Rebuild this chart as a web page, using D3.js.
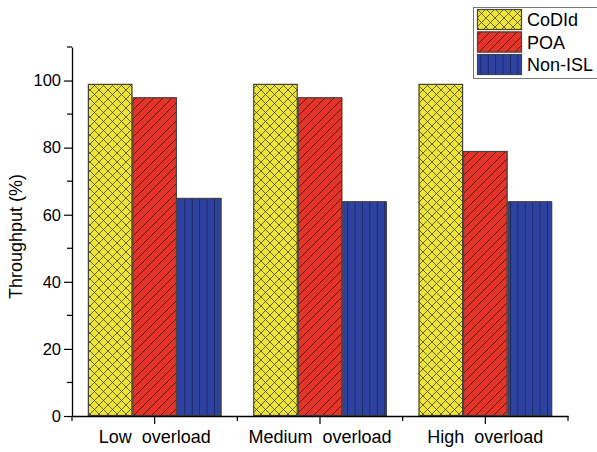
<!DOCTYPE html>
<html><head><meta charset="utf-8">
<script src="https://cdn.jsdelivr.net/npm/d3@7"></script>
<style>
body{margin:0;background:#fff;}
svg{display:block;font-family:"Liberation Sans",Arial,sans-serif;}
</style></head>
<body><svg id="c" width="597" height="452"></svg>
<script>
const categories = ["Low  overload", "Medium  overload", "High  overload"];
const series = ["CoDId", "POA", "Non-ISL"];
const codid = [99, 99, 99];
const poa = [95, 95, 79];
const nonisl = [65, 64, 64];
const yTicks = [0, 20, 40, 60, 80, 100];
const yMinor = [10, 30, 50, 70, 90, 110];

const values = [codid, poa, nonisl];
const colors = ["#EEE436", "#E43428", "#2D42A0"];
const patIds = ["pCross", "pDiag", "pVert"];

const svg = d3.select("#c");
const L = 72, R = 568, T = 47, B = 416;

const defs = svg.append("defs");
let p = defs.append("pattern").attr("id","pCross").attr("patternUnits","userSpaceOnUse").attr("width",9).attr("height",9);
p.append("rect").attr("width",9).attr("height",9).attr("fill",colors[0]);
p.append("path").attr("d","M0,0L9,9M9,0L0,9M-1,8L1,10M8,-1L10,1").attr("stroke","#2a2a10").attr("stroke-width",0.8).attr("opacity",0.85);
p = defs.append("pattern").attr("id","pDiag").attr("patternUnits","userSpaceOnUse").attr("width",9).attr("height",9);
p.append("rect").attr("width",9).attr("height",9).attr("fill",colors[1]);
p.append("path").attr("d","M0,9L9,0M-1,1L1,-1M8,10L10,8").attr("stroke","#2a0a08").attr("stroke-width",0.8).attr("opacity",0.85);
p = defs.append("pattern").attr("id","pVert").attr("patternUnits","userSpaceOnUse").attr("width",7.4).attr("height",10).attr("x",177);
p.append("rect").attr("width",7.4).attr("height",10).attr("fill",colors[2]);
p.append("line").attr("x1",0).attr("x2",0).attr("y1",0).attr("y2",10).attr("stroke","#101a40").attr("stroke-width",1.2);

const x0 = d3.scaleBand().domain(categories).range([L, R]).padding(0);
const x1 = d3.scaleBand().domain(series).range([0, x0.bandwidth()]).paddingInner(0).paddingOuter(0.357);
const y = d3.scaleLinear().domain([0, 110]).range([B, T]);

categories.forEach((c, ci) => {
  series.forEach((s, si) => {
    const bx = x0(c) + x1(s);
    const v = values[si][ci];
    const g = svg.append("g");
    g.append("rect").attr("x", bx).attr("y", y(v)).attr("width", x1.bandwidth()).attr("height", y(0) - y(v))
      .attr("fill", "url(#" + patIds[si] + ")");
    g.append("rect").attr("x", bx + 0.5).attr("y", y(v) + 0.5).attr("width", x1.bandwidth() - 1).attr("height", y(0) - y(v) - 1)
      .attr("fill", "none").attr("stroke", "#444").attr("stroke-width", 1.2);
  });
});

const yAxis = svg.append("g").attr("transform", `translate(${L},0)`)
  .call(d3.axisLeft(y).tickValues(yTicks).tickSize(8).tickSizeOuter(0).tickPadding(3));
yAxis.select(".domain").attr("stroke","#000").attr("stroke-width",1.3);
yAxis.selectAll(".tick line").attr("stroke","#000").attr("stroke-width",1.2);
yAxis.selectAll(".tick text").attr("font-size",16.5).attr("fill","#000").attr("font-family","Liberation Sans, Arial, sans-serif");
yMinor.forEach(v => {
  svg.append("line").attr("x1", L - 5).attr("x2", L).attr("y1", y(v)).attr("y2", y(v)).attr("stroke","#000").attr("stroke-width",1.2);
});

const xAxis = svg.append("g").attr("transform", `translate(0,${B})`)
  .call(d3.axisBottom(x0).tickSize(8).tickSizeOuter(0).tickPadding(6));
xAxis.select(".domain").attr("stroke","#000").attr("stroke-width",1.3);
xAxis.selectAll(".tick line").attr("stroke","#000").attr("stroke-width",1.2);
xAxis.selectAll(".tick text").attr("font-size",18).attr("fill","#000").style("white-space","pre")
  .attr("font-family","Liberation Sans, Arial, sans-serif");
const bounds = categories.map(c => x0(c)).concat([x0(categories[categories.length-1]) + x0.bandwidth()]);
bounds.forEach(bx => {
  svg.append("line").attr("x1", bx).attr("x2", bx).attr("y1", B).attr("y2", B + 5).attr("stroke","#000").attr("stroke-width",1.2);
});

svg.append("text").attr("transform", `translate(22,${(T + B) / 2 + 5}) rotate(-90)`).attr("text-anchor","middle")
  .attr("font-size",18).attr("fill","#000").text("Throughput (%)");

const lg = svg.append("g");
lg.append("rect").attr("x",473.5).attr("y",7.5).attr("width",130).attr("height",71).attr("fill","#fff").attr("stroke","#777").attr("stroke-width",1);
series.forEach((s, si) => {
  const ly = 9 + si * 22.5;
  lg.append("rect").attr("x",477).attr("y",ly).attr("width",45).attr("height",21).attr("fill","url(#" + patIds[si] + ")");
  lg.append("rect").attr("x",477.5).attr("y",ly + 0.5).attr("width",44).attr("height",20).attr("fill","none").attr("stroke","#444").attr("stroke-width",1.2);
  lg.append("text").attr("x",527).attr("y",ly + 17).attr("font-size",18).attr("fill","#000").text(s);
});
</script></body></html>
